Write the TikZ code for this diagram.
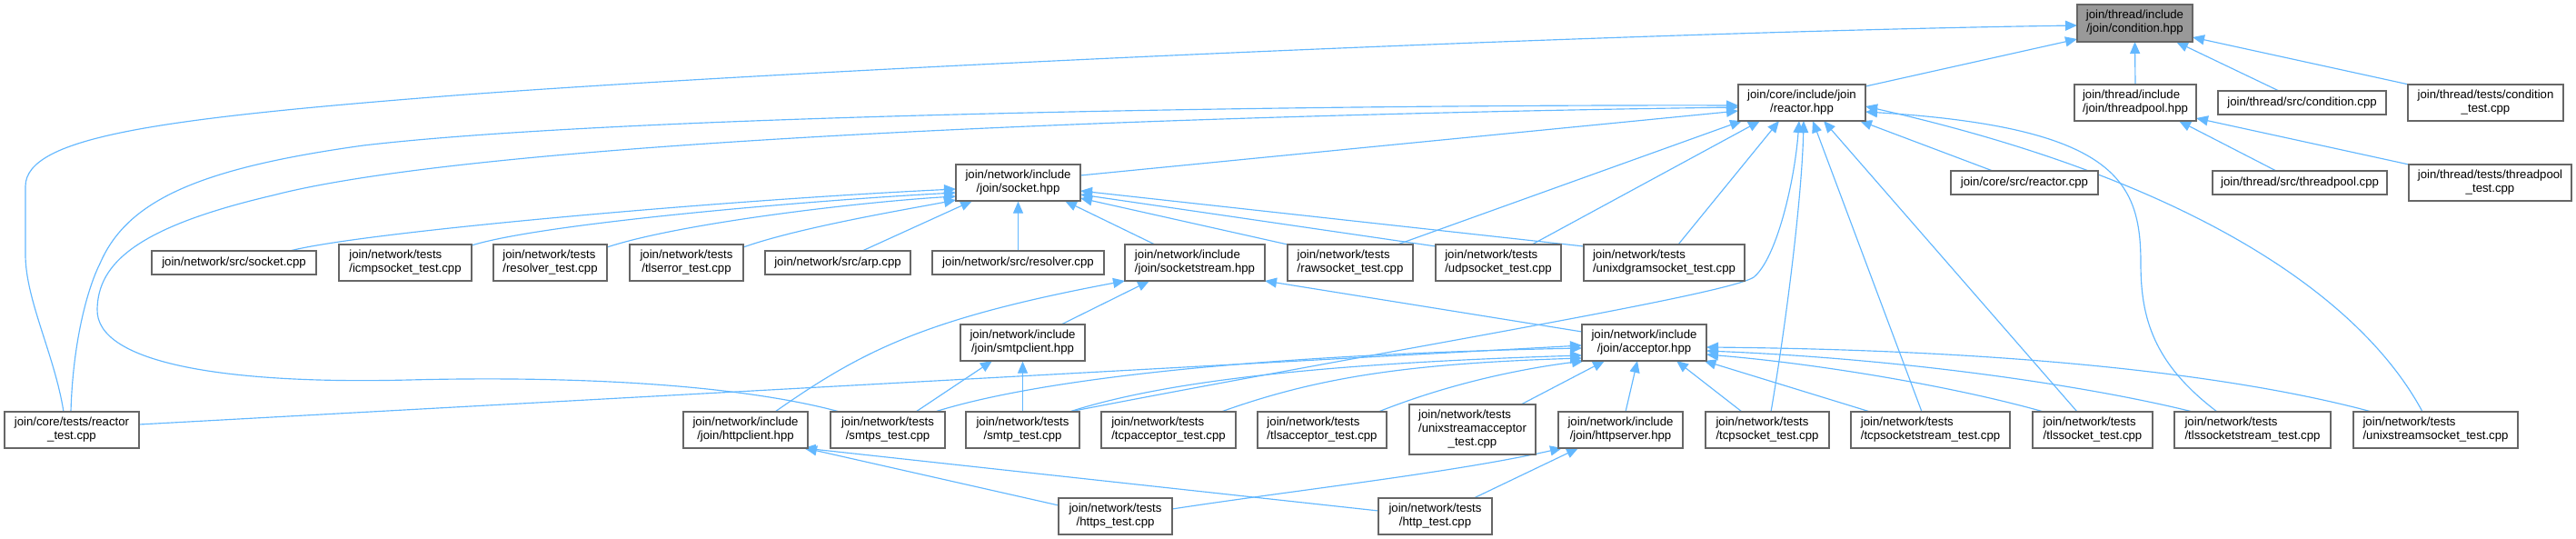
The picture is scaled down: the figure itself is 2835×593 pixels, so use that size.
\documentclass[tikz,border=0pt]{standalone}
\usepackage{fontspec}
\setmainfont{Liberation Sans}
\usetikzlibrary{arrows.meta}
\definecolor{edgeblue}{HTML}{63B8FF}
\definecolor{nodeborder}{HTML}{666666}
\definecolor{rootfill}{HTML}{999999}
\newcommand{\twol}[2]{\begin{tabular}{@{}l@{}}#1\\\multicolumn{1}{@{}c@{}}{#2}\end{tabular}}
\newcommand{\threel}[3]{\begin{tabular}{@{}l@{}}#1\\#2\\\multicolumn{1}{@{}c@{}}{#3}\end{tabular}}
\pgfdeclarelayer{bg}
\pgfsetlayers{bg,main}
\tikzset{
  filebox/.style={draw=nodeborder, fill=white, line width=1.3pt, inner sep=0pt,
    font=\fontsize{13.2}{15}\selectfont, text=black},
  rootbox/.style={filebox, fill=rootfill},
  edge/.style={draw=edgeblue, line width=1.15pt, -{Triangle[length=13pt,width=11pt]}}
}
\begin{document}
\begin{tikzpicture}[x=1pt,y=-1pt]
\useasboundingbox (0,0) rectangle (2835,593);
% nodes
\node[rootbox, minimum width=127pt, minimum height=41pt] (cond) at (2349.5,25.5) {\twol{join/thread/include}{/join/condition.hpp}};
\node[filebox, minimum width=140pt, minimum height=40pt] (reactor) at (1983,113) {\twol{join/core/include/join}{/reactor.hpp}};
\node[filebox, minimum width=134pt, minimum height=40pt] (tpool) at (2350,113) {\twol{join/thread/include}{/join/threadpool.hpp}};
\node[filebox, minimum width=185pt, minimum height=26pt] (condcpp) at (2533.5,113) {join/thread/src/condition.cpp};
\node[filebox, minimum width=171pt, minimum height=40pt] (condtest) at (2735.5,113) {\twol{join/thread/tests/condition}{\_test.cpp}};
\node[filebox, minimum width=162pt, minimum height=26pt] (reactorcpp) at (2228,201) {join/core/src/reactor.cpp};
\node[filebox, minimum width=192pt, minimum height=26pt] (tpoolcpp) at (2531,201) {join/thread/src/threadpool.cpp};
\node[filebox, minimum width=179pt, minimum height=40pt] (tpooltest) at (2740.5,201) {\twol{join/thread/tests/threadpool}{\_test.cpp}};
\node[filebox, minimum width=137pt, minimum height=40pt] (socket) at (1120.5,201) {\twol{join/network/include}{/join/socket.hpp}};
\node[filebox, minimum width=181pt, minimum height=26pt] (socketcpp) at (257.5,289) {join/network/src/socket.cpp};
\node[filebox, minimum width=146pt, minimum height=40pt] (icmp) at (446,289) {\twol{join/network/tests}{/icmpsocket\_test.cpp}};
\node[filebox, minimum width=125pt, minimum height=40pt] (resolvertest) at (605.5,289) {\twol{join/network/tests}{/resolver\_test.cpp}};
\node[filebox, minimum width=125pt, minimum height=40pt] (tlserror) at (755.5,289) {\twol{join/network/tests}{/tlserror\_test.cpp}};
\node[filebox, minimum width=160pt, minimum height=26pt] (arp) at (922,289) {join/network/src/arp.cpp};
\node[filebox, minimum width=189pt, minimum height=26pt] (resolvercpp) at (1120.5,289) {join/network/src/resolver.cpp};
\node[filebox, minimum width=154pt, minimum height=40pt] (sockstream) at (1315,289) {\twol{join/network/include}{/join/socketstream.hpp}};
\node[filebox, minimum width=138pt, minimum height=40pt] (rawsock) at (1486,289) {\twol{join/network/tests}{/rawsocket\_test.cpp}};
\node[filebox, minimum width=138pt, minimum height=40pt] (udpsock) at (1649,289) {\twol{join/network/tests}{/udpsocket\_test.cpp}};
\node[filebox, minimum width=177pt, minimum height=40pt] (unixdgram) at (1831.5,289) {\twol{join/network/tests}{/unixdgramsocket\_test.cpp}};
\node[filebox, minimum width=137pt, minimum height=40pt] (smtpclient) at (1125.5,377) {\twol{join/network/include}{/join/smtpclient.hpp}};
\node[filebox, minimum width=137pt, minimum height=40pt] (acceptor) at (1809.5,377) {\twol{join/network/include}{/join/acceptor.hpp}};
\node[filebox, minimum width=148pt, minimum height=40pt] (reactortest) at (79,473) {\twol{join/core/tests/reactor}{\_test.cpp}};
\node[filebox, minimum width=137pt, minimum height=40pt] (httpclient) at (820.5,473) {\twol{join/network/include}{/join/httpclient.hpp}};
\node[filebox, minimum width=126pt, minimum height=40pt] (smtps) at (977,473) {\twol{join/network/tests}{/smtps\_test.cpp}};
\node[filebox, minimum width=125pt, minimum height=40pt] (smtp) at (1125.5,473) {\twol{join/network/tests}{/smtp\_test.cpp}};
\node[filebox, minimum width=148pt, minimum height=40pt] (tcpacc) at (1286,473) {\twol{join/network/tests}{/tcpacceptor\_test.cpp}};
\node[filebox, minimum width=142pt, minimum height=40pt] (tlsacc) at (1455,473) {\twol{join/network/tests}{/tlsacceptor\_test.cpp}};
\node[filebox, minimum width=139pt, minimum height=55pt] (unixacc) at (1620.5,472.5) {\threel{join/network/tests}{/unixstreamacceptor}{\_test.cpp}};
\node[filebox, minimum width=137pt, minimum height=40pt] (httpserver) at (1783.5,473) {\twol{join/network/include}{/join/httpserver.hpp}};
\node[filebox, minimum width=136pt, minimum height=40pt] (tcpsock) at (1945,473) {\twol{join/network/tests}{/tcpsocket\_test.cpp}};
\node[filebox, minimum width=175pt, minimum height=40pt] (tcpsockstream) at (2124.5,473) {\twol{join/network/tests}{/tcpsocketstream\_test.cpp}};
\node[filebox, minimum width=132pt, minimum height=40pt] (tlssock) at (2303,473) {\twol{join/network/tests}{/tlssocket\_test.cpp}};
\node[filebox, minimum width=172pt, minimum height=40pt] (tlssockstream) at (2479,473) {\twol{join/network/tests}{/tlssocketstream\_test.cpp}};
\node[filebox, minimum width=181pt, minimum height=40pt] (unixstream) at (2680.5,473) {\twol{join/network/tests}{/unixstreamsocket\_test.cpp}};
\node[filebox, minimum width=125pt, minimum height=40pt] (https) at (1227.5,568) {\twol{join/network/tests}{/https\_test.cpp}};
\node[filebox, minimum width=125pt, minimum height=40pt] (http) at (1579.5,568) {\twol{join/network/tests}{/http\_test.cpp}};

\begin{pgfonlayer}{bg}
\fill[white] (0,0) rectangle (2835,593);
% into condition.hpp
\draw[edge] ([shift={(70,-18)}]reactor.center) -- ([shift={(-63.5,17.5)}]cond.center);
\draw[edge] ([shift={(0,-20)}]tpool.center) -- ([shift={(0,20.5)}]cond.center);
\draw[edge] ([shift={(-25.5,-13)}]condcpp.center) -- ([shift={(45.5,20.5)}]cond.center);
\draw[edge] ([shift={(-84.5,-20)}]condtest.center) -- ([shift={(63.5,15.5)}]cond.center);
\draw[edge] ([shift={(-9,-20)}]reactortest.center) .. controls (60,390) and (28,330) .. (28,280) -- (28,205) .. controls (28,150) and (180,130) .. (500,105) .. controls (900,75) and (1800,35) .. ([shift={(-63.5,2.5)}]cond.center);
% into reactor.hpp
\draw[edge] ([shift={(-1,-20)}]reactortest.center) .. controls (80,380) and (95,320) .. (110,290) .. controls (140,220) and (220,185) .. (400,160) .. controls (700,125) and (1500,115) .. ([shift={(-70,3)}]reactor.center);
\draw[edge] ([shift={(-53,-20)}]smtps.center) .. controls (820,425) and (650,413) .. (450,418) .. controls (250,423) and (105,400) .. (107,340) .. controls (108,290) and (150,250) .. (300,215) .. controls (550,150) and (1400,125) .. ([shift={(-70,5)}]reactor.center);
\draw[edge] ([shift={(68.5,-8)}]socket.center) -- ([shift={(-70,9)}]reactor.center);
\draw[edge] ([shift={(52,-20)}]rawsock.center) -- ([shift={(-66,20)}]reactor.center);
\draw[edge] ([shift={(37,-20)}]udpsock.center) -- ([shift={(-46,20)}]reactor.center);
\draw[edge] ([shift={(15.5,-20)}]unixdgram.center) -- ([shift={(-25,20)}]reactor.center);
\draw[edge] ([shift={(51.5,-20)}]smtp.center) .. controls (1500,390) and (1900,325) .. (1930,305) .. controls (1955,285) and (1975,200) .. ([shift={(-3,20)}]reactor.center);
\draw[edge] ([shift={(4,-20)}]tcpsock.center) .. controls (1965,360) and (1983,220) .. ([shift={(2,20)}]reactor.center);
\draw[edge] ([shift={(-9.5,-20)}]tcpsockstream.center) -- ([shift={(12,20)}]reactor.center);
\draw[edge] ([shift={(-17,-20)}]tlssock.center) -- ([shift={(24,20)}]reactor.center);
\draw[edge] ([shift={(-39,-20)}]tlssockstream.center) .. controls (2370,400) and (2356,350) .. (2356,290) .. controls (2356,200) and (2330,140) .. ([shift={(70,10)}]reactor.center);
\draw[edge] ([shift={(-14.5,-20)}]unixstream.center) .. controls (2600,330) and (2420,200) .. ([shift={(70,4)}]reactor.center);
\draw[edge] ([shift={(-35,-13)}]reactorcpp.center) -- ([shift={(64,20)}]reactor.center);
% into threadpool.hpp
\draw[edge] ([shift={(-26,-13)}]tpoolcpp.center) -- ([shift={(48,20)}]tpool.center);
\draw[edge] ([shift={(-89.5,-20)}]tpooltest.center) -- ([shift={(67,17)}]tpool.center);
% into socket.hpp
\draw[edge] ([shift={(61.5,-13)}]socketcpp.center) .. controls (400,255) and (800,220) .. ([shift={(-68.5,7)}]socket.center);
\draw[edge] ([shift={(73,-19)}]icmp.center) .. controls (600,245) and (900,220) .. ([shift={(-68.5,11)}]socket.center);
\draw[edge] ([shift={(62.5,-17)}]resolvertest.center) .. controls (750,245) and (950,222) .. ([shift={(-68.5,15)}]socket.center);
\draw[edge] ([shift={(62.5,-17)}]tlserror.center) .. controls (880,250) and (1000,230) .. ([shift={(-68.5,19)}]socket.center);
\draw[edge] ([shift={(27,-13)}]arp.center) -- ([shift={(-50.5,20)}]socket.center);
\draw[edge] (resolvercpp.north) -- (socket.south);
\draw[edge] ([shift={(-44,-20)}]sockstream.center) -- ([shift={(51.5,20)}]socket.center);
\draw[edge] ([shift={(-69,-20)}]rawsock.center) -- ([shift={(68.5,17)}]socket.center);
\draw[edge] ([shift={(-69,-18)}]udpsock.center) -- ([shift={(68.5,13)}]socket.center);
\draw[edge] ([shift={(-88.5,-18)}]unixdgram.center) -- ([shift={(68.5,9)}]socket.center);
% into socketstream.hpp
\draw[edge] ([shift={(42.5,-20)}]smtpclient.center) -- ([shift={(-50,20)}]sockstream.center);
\draw[edge] ([shift={(32.5,-20)}]httpclient.center) .. controls (950,385) and (1020,350) .. ([shift={(-77,20)}]sockstream.center);
\draw[edge] ([shift={(-68.5,-12)}]acceptor.center) -- ([shift={(77,20)}]sockstream.center);
% into smtpclient.hpp
\draw[edge] ([shift={(31,-20)}]smtps.center) -- ([shift={(-33.5,20)}]smtpclient.center);
\draw[edge] (smtp.north) -- (smtpclient.south);
% into acceptor.hpp
\draw[edge] ([shift={(74,-6)}]reactortest.center) -- ([shift={(-68.5,3)}]acceptor.center);
\draw[edge] ([shift={(52,-20)}]smtps.center) .. controls (1150,415) and (1400,390) .. ([shift={(-68.5,6)}]acceptor.center);
\draw[edge] ([shift={(51.5,-20)}]smtp.center) .. controls (1280,420) and (1450,400) .. ([shift={(-68.5,14)}]acceptor.center);
\draw[edge] ([shift={(58,-20)}]tcpacc.center) .. controls (1450,415) and (1550,400) .. ([shift={(-68.5,17)}]acceptor.center);
\draw[edge] ([shift={(62,-20)}]tlsacc.center) .. controls (1600,420) and (1680,405) .. ([shift={(-66.5,20)}]acceptor.center);
\draw[edge] ([shift={(53.5,-27.5)}]unixacc.center) -- ([shift={(-43.5,20)}]acceptor.center);
\draw[edge] ([shift={(5.5,-20)}]httpserver.center) -- ([shift={(-7.5,20)}]acceptor.center);
\draw[edge] ([shift={(-28,-20)}]tcpsock.center) -- ([shift={(35.5,20)}]acceptor.center);
\draw[edge] ([shift={(-66.5,-20)}]tcpsockstream.center) -- ([shift={(66,20)}]acceptor.center);
\draw[edge] ([shift={(-54,-20)}]tlssock.center) .. controls (2150,425) and (2000,400) .. ([shift={(68.5,13)}]acceptor.center);
\draw[edge] ([shift={(-66,-20)}]tlssockstream.center) .. controls (2300,425) and (2100,395) .. ([shift={(68.5,9)}]acceptor.center);
\draw[edge] ([shift={(-70.5,-20)}]unixstream.center) .. controls (2450,410) and (2200,385) .. ([shift={(68.5,5)}]acceptor.center);
% into httpclient.hpp / httpserver.hpp
\draw[edge] ([shift={(-62.5,-12)}]https.center) -- ([shift={(65.5,20)}]httpclient.center);
\draw[edge] ([shift={(-62.5,-6)}]http.center) -- ([shift={(64,20)}]httpclient.center);
\draw[edge] ([shift={(62.5,-8)}]https.center) .. controls (1420,540) and (1600,520) .. ([shift={(-64.5,20)}]httpserver.center);
\draw[edge] ([shift={(42.5,-20)}]http.center) -- ([shift={(-46.5,20)}]httpserver.center);
\end{pgfonlayer}
\end{tikzpicture}
\end{document}
